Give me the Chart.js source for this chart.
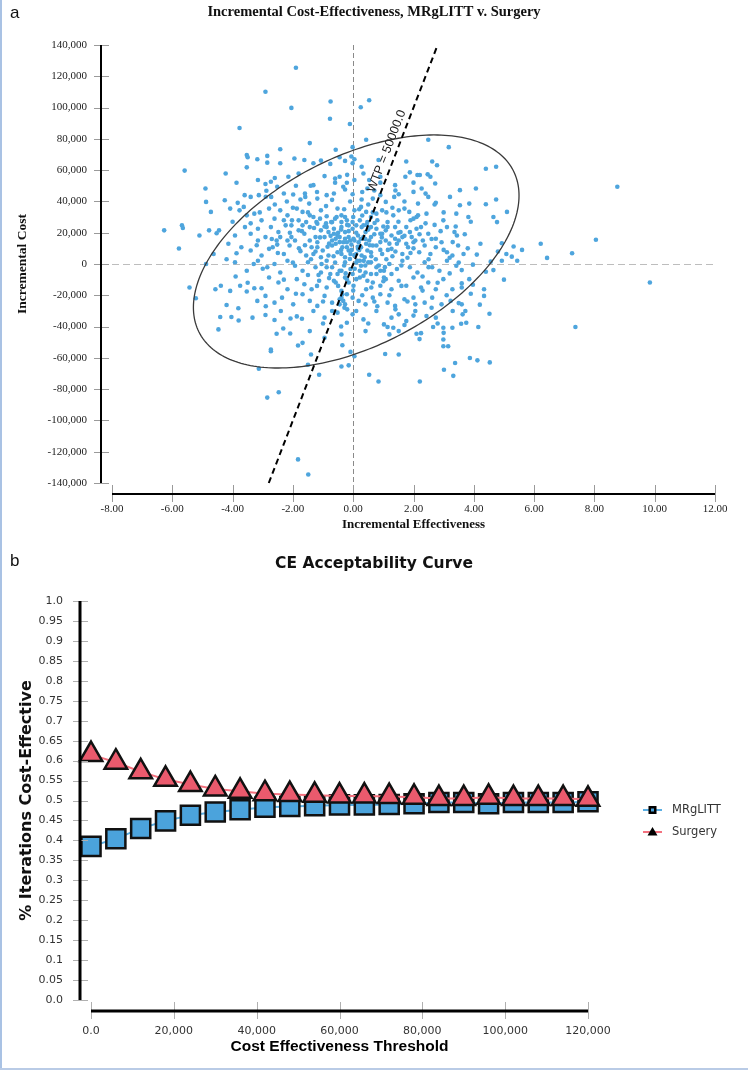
<!DOCTYPE html>
<html>
<head>
<meta charset="utf-8">
<script src="https://cdn.jsdelivr.net/npm/chart.js@4/dist/chart.umd.min.js"></script>
<style>
  html, body { margin: 0; padding: 0; background: #fff; }
  #wrap { position: relative; width: 748px; height: 1072px; overflow: hidden; }
  #icer { position: absolute; left: 0; top: 0; }
  #ceac { position: absolute; left: 0; top: 535px; }
  #wrap:before { content: ""; position: absolute; left: 0; top: 0; width: 2px; height: 1070px; background: #a9c2e4; z-index: 2; }
  #wrap:after { content: ""; position: absolute; left: 0; top: 1068px; width: 748px; height: 2px; background: #b9cbe6; z-index: 2; }
</style>
</head>
<body>
<div id="wrap">
  <canvas id="icer" width="748" height="535"></canvas>
  <canvas id="ceac" width="748" height="537"></canvas>
</div>
<script>
// Panel a: incremental effectiveness / incremental cost per iteration
const iterations = [
  [-1.90,125500],[-2.91,110100],[-2.05,99800],[-0.75,103900],[-0.77,92900],[0.53,104700],[0.25,100200],[-3.77,86900],[-0.11,89500],
  [-3.53,69700],[-3.50,68200],[-1.44,77300],[2.49,79400],[3.17,74700],[-2.42,73400],[-2.85,69100],[-0.58,73000],[-0.02,74700],[0.43,79400],[-0.06,68700],[0.04,67000],
  [-5.59,59700],[-4.23,57900],[-3.53,61800],[-3.18,67000],[-2.85,64800],[-2.42,64400],[-1.95,67400],[-1.62,66500],[-1.32,64400],[-1.07,66100],[-0.76,64000],[-0.45,68200],
  [-0.27,65900],[-0.02,64400],[0.28,62200],[0.84,66500],[1.76,65500],[2.62,65500],[2.78,63100],[4.40,60900],[4.74,62200],[-3.87,51900],
  [-4.90,48300],[-3.16,53700],[-2.91,51100],[-2.73,52600],[-2.52,49400],[-2.15,55800],[-1.81,57900],[-1.41,50000],[-1.32,50400],[-0.95,56200],[-0.60,54700],[-0.45,55800],
  [-0.33,49400],[-0.21,51900],[0.04,53700],[0.34,57900],[0.47,48300],[0.53,53700],[0.90,55800],[1.39,50400],[1.73,55800],[1.88,58600],[2.13,56900],[2.21,56900],
  [2.47,57300],[2.56,55800],[2.27,48300],[2.72,51500],[3.54,47200],[4.07,48300],[8.76,49400],
  [-4.88,39700],[-4.26,40800],[-3.83,39100],[-3.63,36500],[-3.40,42900],[-3.13,44000],[-2.88,46800],[-2.72,42900],[-2.30,45100],[-1.99,44400],[-1.75,41200],[-1.59,42900],
  [-1.46,38600],[-1.19,41800],[-0.88,44000],[-0.64,45100],[-0.27,47600],[-0.02,44600],[0.28,41200],[0.65,41800],[0.90,44000],[1.08,39700],[1.36,42900],[1.51,44600],
  [2.00,46100],[2.15,38600],[2.49,42900],[2.74,39100],[3.21,42900],[3.54,37600],[3.85,38600],[4.40,38200],[4.74,41200],
  [-4.72,33300],[-4.08,35400],[-3.77,34300],[-3.53,31100],[-3.28,32200],[-3.04,27900],[-2.79,35400],[-2.61,29000],[-2.42,34300],[-2.18,31100],[-2.03,27900],[-1.87,35400],
  [-1.68,33300],[-1.44,31100],[-1.22,26800],[-1.07,34300],[-0.88,30500],[-0.70,26800],[-0.52,35400],[-0.39,31100],[-0.21,27900],[0.04,34300],[0.26,36500],[0.43,33300],
  [0.59,30000],[0.77,32200],[0.96,34300],[1.14,26800],[1.33,31100],[1.51,34300],[1.70,35400],[1.86,33300],[2.00,29000],[2.15,31100],[2.43,32200],[2.99,27900],
  [3.42,32200],[3.82,30000],[4.65,30000],[5.10,33300],[4.77,26800],
  [-6.27,21500],[-5.68,24700],[-5.65,23000],[-5.10,18200],[-4.78,21500],[-4.53,19700],[-4.45,21500],[-3.92,18200],[-3.59,23600],[-3.40,19300],[-3.16,22500],[-2.91,17200],
  [-2.73,23600],[-2.48,20400],[-2.24,24700],[-2.05,17200],[-1.81,21500],[-1.62,19300],[-1.44,23600],[-1.25,17200],[-1.07,21500],[-0.88,23600],[-0.73,26800],[-0.64,19300],
  [-0.58,16100],[-0.39,23600],[-0.27,20400],[-0.15,17200],[-0.02,22500],[0.16,18200],[0.28,23600],[0.41,20400],[0.59,17200],[0.77,22500],[0.96,19300],[1.14,23600],
  [1.39,16100],[1.57,20400],[1.76,23600],[1.94,17200],[2.10,22500],[2.31,15000],[2.49,19300],[2.74,16100],[3.11,23600],[3.36,20400],[3.44,18200],[4.22,12900],[8.05,15500],
  [-5.78,9900],[-4.63,6400],[-4.14,12900],[-3.87,6900],[-3.71,10700],[-3.40,8600],[-3.16,15000],[-3.04,5400],[-2.79,9700],[-2.52,12400],[-2.30,6400],[-2.11,11800],
  [-1.93,15000],[-1.75,8200],[-1.56,5400],[-1.38,10700],[-1.19,13900],[-1.01,8600],[-0.82,5400],[-0.70,11800],[-0.52,7500],[-0.33,13900],[-0.21,10700],[-0.09,6400],
  [0.04,15000],[0.16,9700],[0.28,5400],[0.43,12900],[0.59,7500],[0.77,11800],[0.96,6400],[1.08,15000],[1.27,9700],[1.45,12900],[1.63,6400],[1.82,10700],
  [2.00,13900],[2.19,7500],[2.37,11800],[2.56,6400],[2.74,10700],[2.93,13900],[3.11,7500],[3.29,5400],[3.48,11800],[3.66,6400],[4.93,13300],[5.32,11200],
  [5.60,9000],[6.22,12900],[7.26,6900],[5.08,6400],[5.26,4700],
  [-4.88,0],[-3.92,1100],[-3.53,-4300],[-3.16,2100],[-2.85,-2100],[-2.61,0],[-2.42,-5400],[-2.18,2100],[-1.93,-1100],[-1.68,-4300],[-1.50,1100],[-1.25,-2100],
  [-1.07,-5400],[-0.88,2100],[-0.70,-2100],[-0.45,-4300],[-0.27,1100],[-0.09,-3200],[0.14,2100],[0.26,-1100],[0.41,-5400],[0.59,1100],[0.77,-2100],[1.02,-4300],
  [1.20,0],[1.45,-3200],[1.63,2100],[1.88,-2100],[2.13,-5400],[2.37,1100],[2.62,-2100],[2.86,-4300],[3.11,2100],[3.42,-1100],[3.60,-3900],[3.97,-400],
  [4.56,1500],[4.93,2100],[5.44,2100],[6.43,3900],[4.65,-3900],
  [-5.43,-15000],[-4.57,-16100],[-4.39,-13900],[-4.08,-17200],[-3.75,-13900],[-3.53,-17600],[-3.28,-15500],[-3.04,-15500],[-2.79,-8600],[-2.48,-11800],[-2.18,-16100],[-1.87,-9700],
  [-1.62,-12900],[-1.38,-16100],[-1.13,-10700],[-0.88,-15000],[-0.58,-11800],[-0.39,-17200],[-0.21,-9700],[0.01,-13900],[0.22,-8600],[0.43,-16100],[0.65,-11800],[0.90,-13900],
  [1.08,-9700],[1.27,-16100],[1.51,-10700],[1.76,-13900],[2.00,-8600],[2.25,-15000],[2.49,-11800],[2.74,-16100],[2.99,-9700],[3.29,-16100],[3.60,-12400],[3.85,-9700],
  [3.97,-13300],[4.34,-16100],[9.84,-11800],
  [-5.22,-21900],[-4.20,-26200],[-3.81,-28300],[-3.18,-23600],[-2.91,-20400],[-2.61,-24700],[-2.36,-21500],[-1.99,-25800],[-1.68,-19300],[-1.44,-23600],[-1.19,-26800],[-0.95,-20400],
  [-0.70,-24700],[-0.45,-22500],[-0.36,-19300],[-0.27,-25800],[-0.02,-21500],[0.18,-23600],[0.41,-25800],[0.65,-21500],[0.90,-19300],[1.14,-24700],[1.39,-26800],[1.70,-22500],
  [2.00,-21500],[2.06,-25800],[2.37,-24700],[2.62,-21500],[2.93,-25800],[3.23,-23600],[3.60,-25800],[4.34,-20400],
  [-4.41,-33900],[-4.04,-33900],[-3.80,-36100],[-3.34,-34300],[-2.91,-32600],[-2.61,-35800],[-2.08,-34800],[-1.87,-33500],[-1.32,-30000],[-0.95,-34300],[-0.52,-31100],[-0.21,-37600],
  [-0.02,-32200],[0.34,-35400],[0.77,-30000],[1.02,-38600],[1.27,-34300],[1.51,-32200],[1.76,-36500],[2.06,-30000],[2.43,-33300],[2.74,-34300],[3.63,-32200],[3.72,-30000],[4.52,-31800],
  [-4.47,-41800],[-2.54,-44600],[-2.32,-41200],[-2.09,-44400],[-1.44,-42900],[-0.95,-47200],[-0.39,-45100],[0.41,-42900],[1.14,-40300],[1.33,-40800],[1.51,-42900],[2.10,-44600],
  [2.25,-44200],[2.65,-40300],[2.99,-40800],[3.29,-40800],[3.58,-38200],[3.75,-37600],[4.15,-40300],[2.99,-48300],[7.37,-40300],
  [-2.73,-54700],[-2.73,-55800],[-1.83,-52100],[-1.68,-50400],[-1.50,-64400],[-1.40,-57900],[-0.36,-51900],[-0.09,-56200],[0.04,-59000],[1.06,-57500],[1.51,-57900],[2.99,-52600],
  [3.15,-52600],[-3.13,-67000],[-1.13,-70800],[-0.39,-65500],[-0.15,-64800],[0.53,-70800],[0.84,-75100],[2.21,-75100],[3.01,-67600],[3.32,-71500],[3.38,-63300],[3.87,-60100],
  [4.12,-61600],[4.53,-62900],[-2.85,-85400],[-2.47,-82000],[-1.83,-124900],[-1.49,-134600],
  [-0.70,15000],[-0.58,12900],[-0.45,17200],[-0.36,10700],[-0.27,16100],[-0.21,13900],[-0.15,8600],[-0.06,12400],[0.01,16100],[0.10,6400],[0.18,13900],[0.26,10700],
  [0.34,17200],[0.47,8600],[0.53,15000],[0.65,11800],[-0.39,6400],[-0.27,4300],[-0.11,3200],[0.04,5400],[0.22,2100],[0.38,4300],[0.50,1100],[-0.95,17200],
  [-0.82,20400],[-0.64,22500],[-0.52,18200],[-0.39,26800],[-0.27,30000],[-0.15,24700],[-0.02,26800],[0.10,24700],[0.22,27900],[0.34,24700],[0.47,26800],[0.59,23600],
  [0.71,26200],[-1.19,10700],[-1.32,6400],[-1.44,15000],[-1.07,4300],[-0.88,-2100],[-0.76,-6400],[-0.64,-10700],[-0.52,-6400],[-0.39,-4300],[-0.27,-8600],[-0.15,-11800],
  [-0.02,-6400],[0.10,-9700],[0.22,-4300],[0.34,-7500],[0.47,-10700],[0.59,-6400],[0.77,-6400],[0.90,-4300],[1.02,-8600],[1.27,-6400],[-0.21,-19300],[-0.39,-21500],
  [-0.33,-23600],[-0.45,-25800],[-0.29,-27900],[-1.19,25800],[-1.32,30000],[-1.56,26800],[-1.68,24700],[-1.81,27900],[-2.05,24700],[-2.18,15000],[-2.42,17200],[-2.54,15000],
  [-2.67,10700],[0.90,19300],[1.08,21500],[1.27,18200],[1.39,23600],[1.51,15000],[1.63,17200],[1.76,12900],[1.88,20400],[2.06,15000],[2.25,23600],
  [-2.60,38000],[-2.30,28000],[-2.00,36000],[-1.70,21000],[-1.50,33000],[-1.30,23000],[-1.10,29000],[-0.90,37000],[-0.80,13000],[-0.60,29000],[-0.50,20000],[-0.40,9000],
  [-0.30,35000],[-0.20,25000],[-0.10,15000],[0.00,30000],[0.10,20000],[0.20,9000],[0.30,31000],[0.40,16000],[0.50,38000],[0.60,5000],[0.70,19000],[0.80,28000],
  [0.90,9000],[1.00,24000],[1.10,3000],[1.20,13000],[1.30,36000],[1.40,8000],[1.50,27000],[1.60,-1000],[1.70,18000],[1.80,4000],[1.90,28000],[2.00,10000],
  [2.20,19000],[2.30,-8000],[2.40,26000],[2.50,3000],[2.60,16000],[2.80,-12000],[2.90,21000],[3.00,9000],[3.20,-6000],[3.30,14000],[3.50,1000],[3.70,19000],
  [3.90,-19000],[4.10,6000],
  [-3.40,26000],[-3.20,12000],[-3.00,-3000],[-2.90,43000],[-2.70,16000],[-2.50,7000],[-2.30,-10000],[-2.20,40000],[-2.00,1000],[-1.90,-19000],[-1.80,10000],[-1.60,45000],
  [-1.50,-7000],[-1.40,3000],[-1.20,-14000],[-1.10,17000],[-1.00,-24000],[-0.90,26000],[-0.80,-9000],[-0.70,41000],[-0.60,1000],[-0.50,-14000],[-0.40,22000],[-0.30,-1000],
  [-0.20,-29000],[-0.10,40000],[0.00,-17000],[0.10,1000],[0.20,35000],[0.30,-20000],[0.40,-1000],[0.50,22000],[0.60,-15000],[0.70,47000],[0.80,-27000],[0.90,14000],
  [1.00,-11000],[1.10,33000],[1.20,-20000],[1.30,5000],[1.40,-29000],[1.50,20000],[1.60,-14000],[1.70,40000],[1.80,-24000],[1.90,7000],[2.00,-33000],[2.10,30000],
  [2.30,-17000],[2.40,45000],[2.60,-28000],[2.70,25000],[2.80,-38000],[3.00,33000],[3.10,-20000],[3.30,-30000],[3.40,24000],[3.60,-15000],[3.80,10000],
  [-4.20,3000],[-4.00,27000],[-3.90,-8000],[-3.60,44000],[-3.50,-12000],[-3.30,0],[-3.10,33000],[-2.90,-27000],[-2.60,55000],[-2.40,-30000],[-2.10,20000],[-1.90,50000],
  [-1.70,-35000],[-1.60,12000],[-1.20,46000],[-1.00,-38000],[-0.70,-30000],[-0.60,52000],[-0.40,-40000],[-0.20,57000],[0.10,-30000],[0.30,46000],[0.50,-38000],[0.70,-24000],
  [0.90,52000],[1.20,-45000],[1.40,47000],[1.70,-39000],[2.00,52000],[2.20,-48000],[2.50,-2000],[2.70,38000],[3.00,-44000],[3.20,4000],[3.50,-25000],[3.90,27000],
  [4.20,-26000],[4.40,-5000],[4.80,8000],[5.00,-10000],
  [0.15,11000],[-0.15,21000],[0.35,2000],[-0.45,14000],[0.55,12000],[-0.65,5000],[0.75,3000],[-0.85,11000],[0.95,17000],[-1.05,0],[1.15,9000],[-1.25,8000],
  [0.05,-3000],[-0.25,-6000],[0.25,16000],[-0.55,30000],[0.45,25000],[-0.75,18000],[0.65,33000],[-0.95,24000],[0.85,-1000],[-1.15,-7000],[1.05,-2000],[-0.05,9000]
];

// 95% confidence ellipse of the cloud (centre, spreads, correlation)
const ellipseCentre = [0.1, 8000];
const ellipseSpread = [5.4, 74500];
const ellipseCorr = 0.48;

// willingness-to-pay threshold line
const wtp = 50000;
const wtpLabelCost = 70000;

const effTicks = { min: -8, max: 12, step: 2 };
const costTicks = { min: -140000, max: 140000, step: 10000 };

// Panel b: CE acceptability curve
const thresholds = [0, 6000, 12000, 18000, 24000, 30000, 36000, 42000, 48000, 54000, 60000,
  66000, 72000, 78000, 84000, 90000, 96000, 102000, 108000, 114000, 120000];
const mrglitt = [0.385, 0.404, 0.430, 0.449, 0.463, 0.471, 0.477, 0.483, 0.485, 0.487, 0.489,
  0.489, 0.490, 0.492, 0.495, 0.495, 0.492, 0.495, 0.495, 0.495, 0.497];
const surgery = [0.615, 0.596, 0.572, 0.553, 0.540, 0.529, 0.523, 0.517, 0.515, 0.513, 0.511,
  0.511, 0.510, 0.508, 0.505, 0.505, 0.508, 0.505, 0.505, 0.505, 0.503];

const seriesNames = ['MRgLITT', 'Surgery'];

// title text and panel letter, drawn centred on the whole canvas
const captions = {
  id: 'captions',
  afterDraw(chart, args, o) {
    const ctx = chart.ctx;
    ctx.save();
    ctx.fillStyle = '#111';
    ctx.font = o.font;
    ctx.textAlign = 'center';
    ctx.textBaseline = 'middle';
    ctx.fillText(o.text, chart.width / 2, o.y);
    ctx.font = '17px "Liberation Sans", Arial, sans-serif';
    ctx.textAlign = 'left';
    ctx.textBaseline = 'alphabetic';
    ctx.fillText(o.letter, 10, o.letterY);
    ctx.restore();
  }
};

// axis lines pushed away from the plot area, with tick marks crossing them
const offsetAxes = {
  id: 'offsetAxes',
  afterDraw(chart, args, o) {
    const { ctx, chartArea: a } = chart;
    const x = chart.scales.x, y = chart.scales.y;
    const ax = a.left - o.gap, ay = a.bottom + o.gap;
    ctx.save();
    ctx.strokeStyle = o.tickColor;
    ctx.lineWidth = 1;
    ctx.beginPath();
    y.ticks.forEach(t => {
      const py = Math.round(y.getPixelForValue(t.value)) + 0.5;
      ctx.moveTo(ax - 7, py); ctx.lineTo(ax + 8, py);
    });
    x.ticks.forEach(t => {
      const px = Math.round(x.getPixelForValue(t.value)) + 0.5;
      ctx.moveTo(px, ay - 9); ctx.lineTo(px, ay + 8);
    });
    ctx.stroke();
    ctx.strokeStyle = '#000';
    ctx.lineWidth = o.width;
    ctx.beginPath();
    ctx.moveTo(ax, y.getPixelForValue(y.max));
    ctx.lineTo(ax, y.getPixelForValue(y.min));
    ctx.moveTo(x.getPixelForValue(x.min), ay);
    ctx.lineTo(x.getPixelForValue(x.max), ay);
    ctx.stroke();
    ctx.restore();
  }
};

// zero reference lines, confidence ellipse and WTP line for panel a
const planeGuides = {
  id: 'planeGuides',
  beforeDatasetsDraw(chart) {
    const { ctx, chartArea: a } = chart;
    const x = chart.scales.x, y = chart.scales.y;
    ctx.save();
    ctx.lineWidth = 1;
    ctx.setLineDash([5, 3]);
    ctx.strokeStyle = '#8a8a8a';
    const x0 = Math.round(x.getPixelForValue(0)) + 0.5;
    ctx.beginPath(); ctx.moveTo(x0, a.top); ctx.lineTo(x0, a.bottom); ctx.stroke();
    ctx.strokeStyle = '#bdbdbd';
    ctx.setLineDash([7, 4]);
    const y0 = Math.round(y.getPixelForValue(0)) + 0.5;
    ctx.beginPath(); ctx.moveTo(a.left, y0); ctx.lineTo(a.right, y0); ctx.stroke();
    ctx.restore();
  },
  afterDatasetsDraw(chart) {
    const ctx = chart.ctx;
    const x = chart.scales.x, y = chart.scales.y;
    ctx.save();
    // ellipse
    ctx.strokeStyle = '#3a3a3a';
    ctx.lineWidth = 1.3;
    ctx.beginPath();
    const k = Math.sqrt(1 - ellipseCorr * ellipseCorr);
    for (let i = 0; i <= 240; i++) {
      const t = i / 240 * Math.PI * 2;
      const ex = ellipseCentre[0] + ellipseSpread[0] * Math.cos(t);
      const ey = ellipseCentre[1] + ellipseSpread[1] * (ellipseCorr * Math.cos(t) + k * Math.sin(t));
      const px = x.getPixelForValue(ex), py = y.getPixelForValue(ey);
      if (i === 0) ctx.moveTo(px, py); else ctx.lineTo(px, py);
    }
    ctx.closePath();
    ctx.stroke();
    // WTP line
    const p1 = [x.getPixelForValue(y.min / wtp), y.getPixelForValue(y.min)];
    const p2 = [x.getPixelForValue(y.max / wtp), y.getPixelForValue(y.max)];
    ctx.strokeStyle = '#000';
    ctx.lineWidth = 2;
    ctx.setLineDash([6, 4]);
    ctx.beginPath(); ctx.moveTo(p1[0], p1[1]); ctx.lineTo(p2[0], p2[1]); ctx.stroke();
    ctx.setLineDash([]);
    const ang = Math.atan2(p2[1] - p1[1], p2[0] - p1[0]);
    ctx.translate(x.getPixelForValue(wtpLabelCost / wtp), y.getPixelForValue(wtpLabelCost));
    ctx.rotate(ang);
    ctx.fillStyle = '#222';
    ctx.font = '12.5px "Liberation Sans", Arial, sans-serif';
    ctx.textAlign = 'center';
    ctx.textBaseline = 'bottom';
    ctx.fillText('WTP = ' + wtp.toFixed(1), 0, -3);
    ctx.restore();
  }
};

// legend at the right of panel b: short line with marker, then the name
const sideLegend = {
  id: 'sideLegend',
  afterDraw(chart, args, o) {
    const ctx = chart.ctx;
    ctx.save();
    chart.data.datasets.forEach((ds, i) => {
      const ly = o.y + i * o.step;
      ctx.strokeStyle = ds.borderColor;
      ctx.lineWidth = 2;
      ctx.beginPath(); ctx.moveTo(o.x, ly); ctx.lineTo(o.x + 19, ly); ctx.stroke();
      const cx = o.x + 9.5;
      if (ds.pointStyle === 'rect') {
        ctx.fillStyle = '#000';
        ctx.fillRect(cx - 4, ly - 4, 8, 8);
        ctx.fillStyle = ds.pointBackgroundColor;
        ctx.fillRect(cx - 1.5, ly - 1.5, 3, 3);
      } else {
        ctx.fillStyle = '#000';
        ctx.beginPath();
        ctx.moveTo(cx, ly - 5); ctx.lineTo(cx + 5, ly + 3.5); ctx.lineTo(cx - 5, ly + 3.5);
        ctx.closePath(); ctx.fill();
      }
      ctx.fillStyle = '#333';
      ctx.font = '11.5px "DejaVu Sans", Verdana, sans-serif';
      ctx.textBaseline = 'middle';
      ctx.fillText(ds.label, o.x + 29, ly);
    });
    ctx.restore();
  }
};

const serif = '"Liberation Serif", "Times New Roman", serif';
const sans = '"DejaVu Sans", Verdana, sans-serif';

// Chart a: cost-effectiveness plane
new Chart(document.getElementById('icer'), {
  type: 'scatter',
  data: {
    datasets: [{
      data: iterations.map(p => ({ x: p[0], y: p[1] })),
      backgroundColor: '#4ea5dd',
      pointRadius: 2.3,
      pointBorderWidth: 0,
      clip: false
    }]
  },
  options: {
    responsive: false,
    animation: false,
    devicePixelRatio: 1,
    layout: { padding: { top: 45, right: 33, left: 0, bottom: 0 } },
    plugins: {
      legend: { display: false },
      tooltip: { enabled: false },
      captions: { text: 'Incremental Cost-Effectiveness, MRgLITT v. Surgery', font: 'bold 14.5px ' + serif, y: 12, letter: 'a', letterY: 18 },
      offsetAxes: { gap: 11, width: 2, tickColor: '#9a9a9a' }
    },
    scales: {
      x: {
        type: 'linear',
        min: effTicks.min, max: effTicks.max,
        grid: { display: false, drawTicks: false },
        border: { display: false },
        ticks: { stepSize: effTicks.step, padding: 20, color: '#222', font: { family: serif, size: 11 },
          callback: v => v.toFixed(2) },
        title: { display: true, text: 'Incremental Effectiveness', color: '#111',
          font: { family: serif, size: 13, weight: 'bold' }, padding: { top: 0, bottom: 3 } },
        afterFit: s => { s.height = 52; }
      },
      y: {
        min: costTicks.min, max: costTicks.max,
        grid: { display: false, drawTicks: false },
        border: { display: false },
        ticks: { stepSize: costTicks.step, padding: 25, color: '#222', font: { family: serif, size: 11 },
          callback: v => v.toLocaleString('en-US') },
        title: { display: true, text: 'Incremental Cost', color: '#111',
          font: { family: serif, size: 13.5, weight: 'bold' }, padding: { top: 14, bottom: 0 } },
        afterFit: s => { s.width = 112; }
      }
    }
  },
  plugins: [captions, offsetAxes, planeGuides]
});

// Chart b: acceptability curve
new Chart(document.getElementById('ceac'), {
  type: 'line',
  data: {
    datasets: [
      {
        label: seriesNames[0],
        data: thresholds.map((t, i) => ({ x: t, y: mrglitt[i] })),
        borderColor: '#5aaee3',
        borderWidth: 2,
        pointStyle: 'rect',
        pointRadius: 13.5,
        pointBackgroundColor: '#4ba3dc',
        pointBorderColor: '#111',
        pointBorderWidth: 2.5,
        tension: 0,
        clip: false,
        order: 1
      },
      {
        label: seriesNames[1],
        data: thresholds.map((t, i) => ({ x: t, y: surgery[i] })),
        borderColor: '#f3727f',
        borderWidth: 2,
        pointStyle: 'triangle',
        pointRadius: 13,
        pointBackgroundColor: '#ea5a6d',
        pointBorderColor: '#111',
        pointBorderWidth: 2.5,
        tension: 0,
        clip: false,
        order: 0
      }
    ]
  },
  options: {
    responsive: false,
    animation: false,
    devicePixelRatio: 1,
    layout: { padding: { top: 66, right: 160, left: 0, bottom: 0 } },
    plugins: {
      legend: { display: false },
      tooltip: { enabled: false },
      captions: { text: 'CE Acceptability Curve', font: 'bold 15.5px ' + sans, y: 29, letter: 'b', letterY: 31 },
      offsetAxes: { gap: 11, width: 3, tickColor: '#b0b0b0' },
      sideLegend: { x: 643, y: 275, step: 22 }
    },
    scales: {
      x: {
        type: 'linear',
        min: 0, max: 120000,
        grid: { display: false, drawTicks: false },
        border: { display: false },
        ticks: { stepSize: 20000, padding: 25, color: '#333', font: { family: sans, size: 11 },
          callback: v => v === 0 ? '0.0' : v.toLocaleString('en-US') },
        title: { display: true, text: 'Cost Effectiveness Threshold', color: '#000',
          font: { family: '"Liberation Sans", Arial, sans-serif', size: 15.5, weight: 'bold' }, padding: { top: 0, bottom: 16 } },
        afterFit: s => { s.height = 72; }
      },
      y: {
        min: 0, max: 1,
        grid: { display: false, drawTicks: false },
        border: { display: false },
        ticks: { stepSize: 0.05, padding: 28, color: '#333', font: { family: sans, size: 11 },
          callback: v => (v === 0 || v === 1) ? v.toFixed(1) : String(+v.toFixed(2)) },
        title: { display: true, text: '% Iterations Cost-Effective', color: '#111',
          font: { family: sans, size: 16, weight: 'bold' }, padding: { top: 17, bottom: 0 } },
        afterFit: s => { s.width = 91; }
      }
    }
  },
  plugins: [captions, offsetAxes, sideLegend]
});
</script>
</body>
</html>
